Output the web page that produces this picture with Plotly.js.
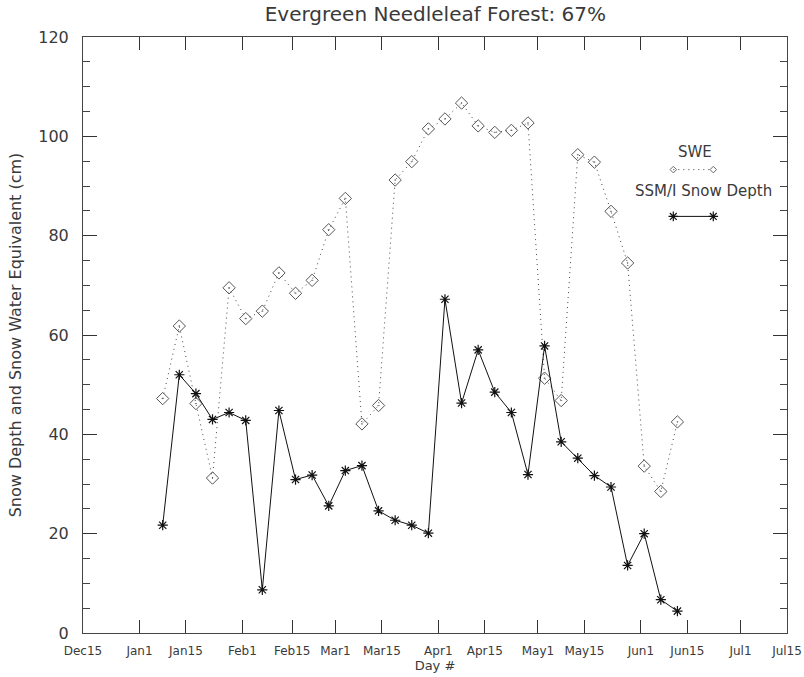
<!DOCTYPE html>
<html>
<head>
<meta charset="utf-8">
<script src="https://cdn.plot.ly/plotly-3.0.1.min.js"></script>
<style>html,body{margin:0;padding:0;background:#fff;}#chart{width:804px;height:677px;}</style>
</head>
<body>
<div id="chart"></div>
<script>
// Day of year (pentad mid-points)
const dayOfYear = [8, 13, 18, 23, 28, 33, 38, 43, 48, 53, 58, 63, 68, 73, 78, 83,
                   88, 93, 98, 103, 108, 113, 118, 123, 128, 133, 138, 143, 148, 153, 158, 163];
// Snow water equivalent (cm)
const sweValues = [47.2, 61.8, 46.2, 31.2, 69.5, 63.3, 64.8, 72.5, 68.4, 71.0, 81.2, 87.5, 42.1, 45.8, 91.2, 94.9,
                   101.5, 103.5, 106.7, 102.1, 100.8, 101.2, 102.7, 51.3, 46.8, 96.3, 94.8, 84.9, 74.5, 33.6, 28.5, 42.5];
// SSM/I snow depth (cm)
const depthValues = [21.7, 52.0, 48.2, 43.0, 44.4, 42.8, 8.7, 44.8, 30.9, 31.8, 25.6, 32.7, 33.7, 24.6, 22.7, 21.7,
                     20.1, 67.2, 46.3, 57.0, 48.5, 44.4, 31.9, 57.8, 38.5, 35.2, 31.7, 29.4, 13.6, 20.0, 6.7, 4.4];
// X tick positions (day of year) and labels
const xTickVals = [-16, 1, 15, 32, 47, 60, 74, 91, 105, 121, 135, 152, 166, 182, 196];
const xTickText = ["Dec15", "Jan1", "Jan15", "Feb1", "Feb15", "Mar1", "Mar15", "Apr1", "Apr15",
                   "May1", "May15", "Jun1", "Jun15", "Jul1", "Jul15"];
const yTickVals = [0, 20, 40, 60, 80, 100, 120];
const seriesNames = ["SWE", "SSM/I Snow Depth"];
const chartTitle = "Evergreen Needleleaf Forest: 67%";

const FONT = "DejaVu Sans, sans-serif";
const INK = "#3a3a3a";

const traces = [
  {
    x: dayOfYear, y: sweValues, name: seriesNames[0], type: "scatter", mode: "lines+markers",
    line: {color: "#444", width: 1, dash: "1px,4px"},
    marker: {symbol: "diamond-open-dot", size: 9.5, color: "#555", line: {width: 1, color: "#555"}},
    showlegend: false, cliponaxis: false
  },
  {
    x: dayOfYear, y: depthValues, name: seriesNames[1], type: "scatter", mode: "lines+markers",
    line: {color: "#111", width: 1},
    marker: {symbol: "asterisk-open", size: 8.5, color: "#111", line: {width: 1.2, color: "#111"}},
    showlegend: false, cliponaxis: false
  },
  // legend samples (drawn in a fixed 0-1 overlay frame)
  {
    x: [0.8385, 0.8953], y: [0.7775, 0.7775], xaxis: "x2", yaxis: "y2", type: "scatter", mode: "lines+markers",
    line: {color: "#444", width: 1, dash: "1px,4px"},
    marker: {symbol: "diamond-open", size: 5, color: "#666", line: {width: 1, color: "#666"}},
    showlegend: false, hoverinfo: "skip"
  },
  {
    x: [0.8385, 0.8953], y: [0.699, 0.699], xaxis: "x2", yaxis: "y2", type: "scatter", mode: "lines+markers",
    line: {color: "#111", width: 1},
    marker: {symbol: "asterisk-open", size: 8, color: "#111", line: {width: 1.2, color: "#111"}},
    showlegend: false, hoverinfo: "skip"
  }
];

const layout = {
  width: 804, height: 677,
  paper_bgcolor: "#fff", plot_bgcolor: "#fff",
  margin: {l: 83, r: 17, t: 37, b: 44, pad: 0},
  font: {family: FONT, color: INK},
  title: {text: chartTitle, font: {family: FONT, size: 20, color: INK}, x: 0.5415, xanchor: "center", y: 0.99, yanchor: "top"},
  xaxis: {
    range: [-16, 196], tickmode: "array", tickvals: xTickVals, ticktext: xTickText,
    ticks: "inside", ticklen: 13, tickwidth: 1, tickcolor: "#333",
    showline: true, linecolor: "#444", linewidth: 1, mirror: "ticks",
    showgrid: false, zeroline: false,
    tickfont: {family: FONT, size: 12, color: INK}, ticklabelstandoff: 7,
    title: {text: "Day #", font: {family: FONT, size: 13, color: INK}, standoff: 0},
    automargin: false
  },
  yaxis: {
    range: [0, 120], tickmode: "array", tickvals: yTickVals,
    ticks: "inside", ticklen: 14, tickwidth: 1, tickcolor: "#333",
    minor: {dtick: 5, ticks: "inside", ticklen: 7, tickcolor: "#444", showgrid: false},
    showline: true, linecolor: "#444", linewidth: 1, mirror: "ticks",
    showgrid: false, zeroline: false,
    tickfont: {family: FONT, size: 16, color: INK}, ticklabelstandoff: 10,
    title: {text: "Snow Depth and Snow Water Equivalent (cm)", font: {family: FONT, size: 16, color: INK}, standoff: 12},
    automargin: false
  },
  xaxis2: {overlaying: "x", range: [0, 1], visible: false, anchor: "y2"},
  yaxis2: {overlaying: "y", range: [0, 1], visible: false, anchor: "x2"},
  annotations: [
    {text: seriesNames[0], xref: "paper", yref: "paper", x: 0.870, y: 0.8066, xanchor: "center", yanchor: "middle",
     showarrow: false, font: {family: FONT, size: 15, color: INK}},
    {text: seriesNames[1], xref: "paper", yref: "paper", x: 0.8814, y: 0.741, xanchor: "center", yanchor: "middle",
     showarrow: false, font: {family: FONT, size: 15, color: INK}}
  ],
  showlegend: false
};

Plotly.newPlot("chart", traces, layout, {displayModeBar: false, staticPlot: true});
</script>
</body>
</html>
